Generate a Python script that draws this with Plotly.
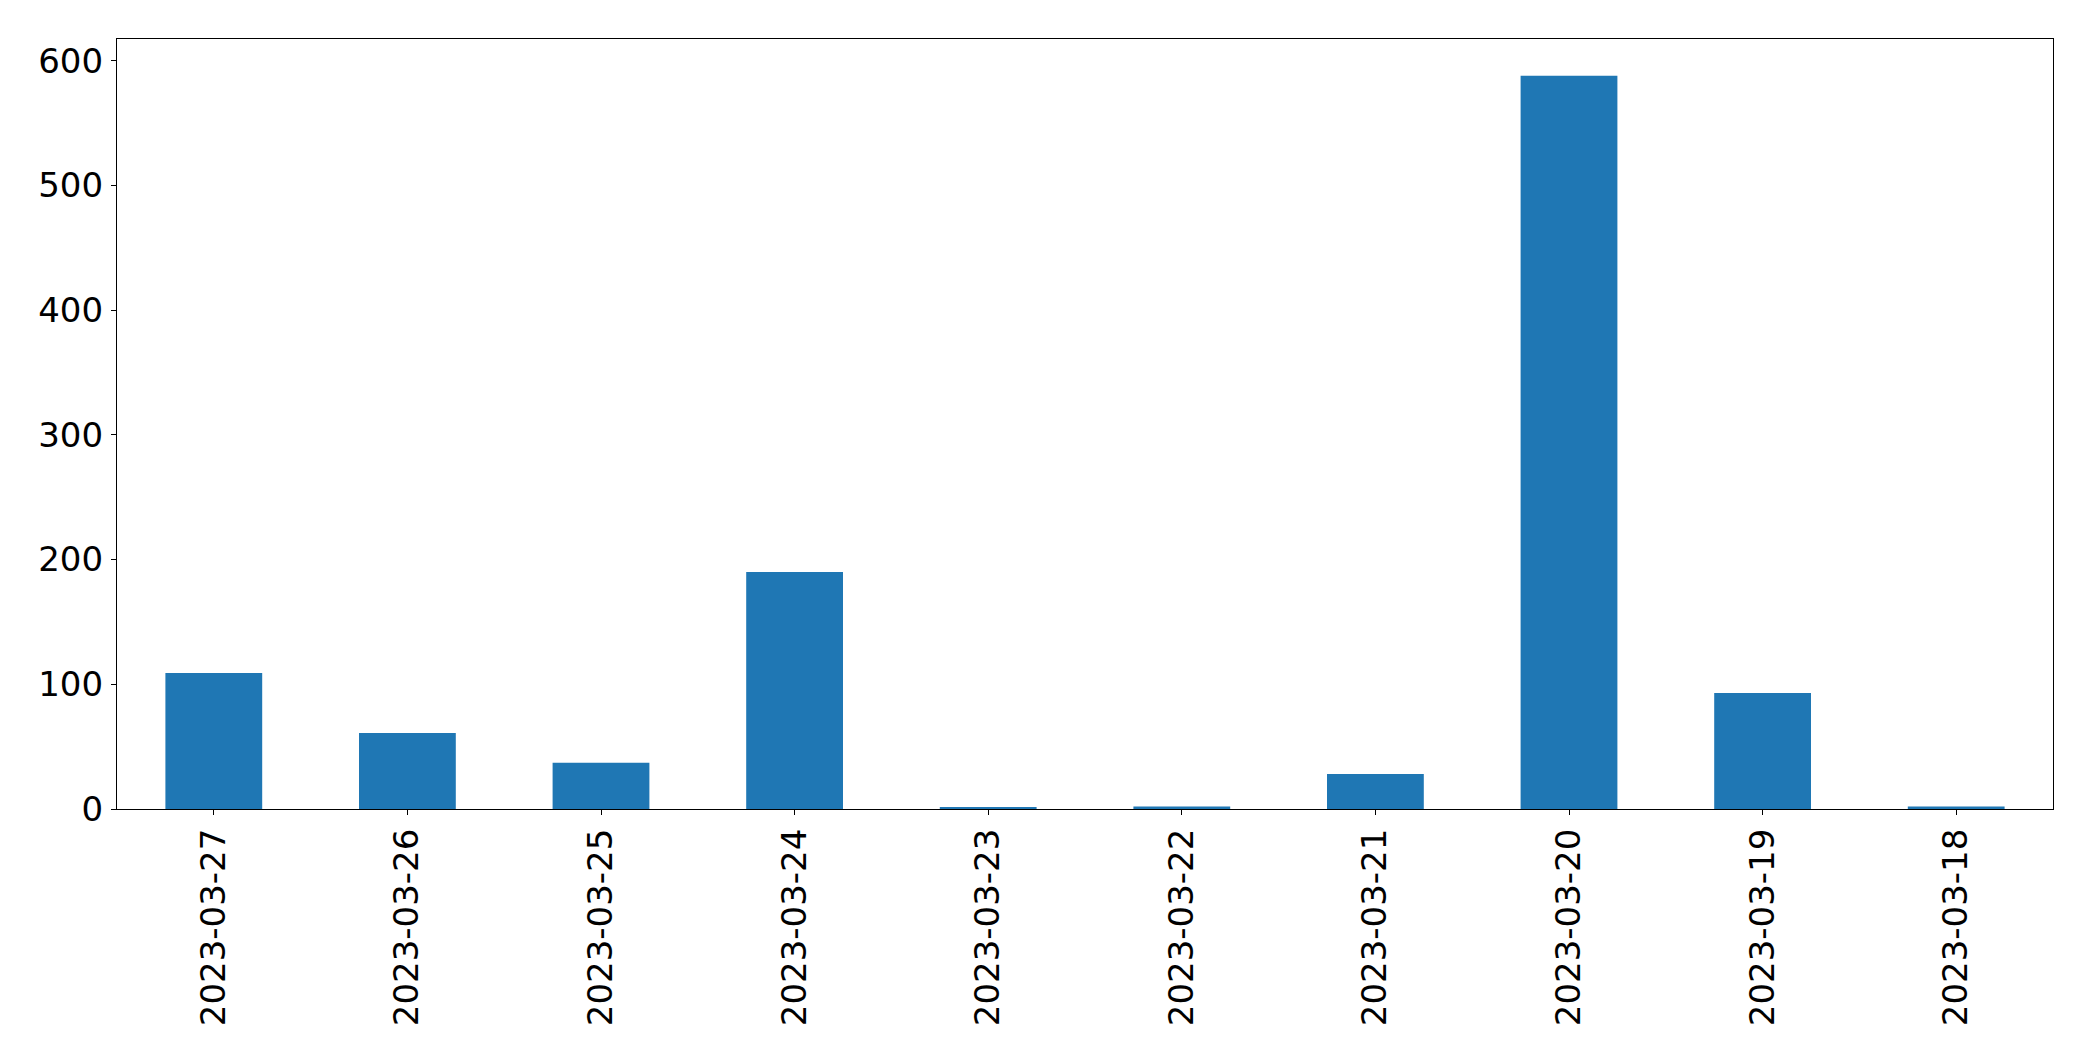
import plotly.graph_objects as go

dates = ["2023-03-27", "2023-03-26", "2023-03-25", "2023-03-24", "2023-03-23",
         "2023-03-22", "2023-03-21", "2023-03-20", "2023-03-19", "2023-03-18"]
counts = [109, 61, 37, 190, 1, 2, 28, 588, 93, 2]

fig = go.Figure(go.Bar(x=dates, y=counts, marker=dict(color="#1f77b4", line=dict(width=0))))

# page body has an 8px default margin
W, H = 2085, 1053
L, R, T, B = 108.7, 39.7, 31.3, 251.7

fig.update_layout(
    width=W, height=H,
    margin=dict(l=L, r=R, t=T, b=B, pad=0),
    paper_bgcolor="white", plot_bgcolor="white",
    bargap=0.5,
    showlegend=False,
    font=dict(family="DejaVu Sans", size=34, color="black"),
)
fig.update_xaxes(
    type="category", range=[-0.5, 9.5],
    showline=True, linecolor="black", linewidth=1.1, mirror=True,
    ticks="outside", ticklen=5, tickwidth=1.1, tickcolor="black",
    tickangle=-90, showgrid=False, zeroline=False,
    tickfont=dict(family="DejaVu Sans", size=34, color="black"),
    ticklabelstandoff=0,
)
fig.update_yaxes(
    range=[0, max(counts) * 1.05],
    tickvals=[0, 100, 200, 300, 400, 500, 600],
    showline=True, linecolor="black", linewidth=1.1, mirror=True,
    ticks="outside", ticklen=5, tickwidth=1.1, tickcolor="black",
    showgrid=False, zeroline=False,
    tickfont=dict(family="DejaVu Sans", size=34, color="black"),
    ticklabelstandoff=1,
)

fig.write_html("out.html")
